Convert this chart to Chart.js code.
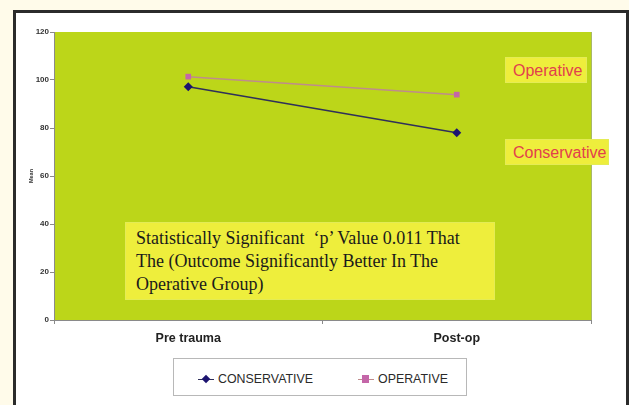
<!DOCTYPE html>
<html>
<head>
<meta charset="utf-8">
<script src="https://cdn.jsdelivr.net/npm/chart.js@4/dist/chart.umd.min.js"></script>
<style>
  html, body { margin: 0; padding: 0; }
  body { width: 629px; height: 405px; background: #fffbea; position: relative; overflow: hidden; font-family: "Liberation Sans", Arial, sans-serif; }
  #frame { position: absolute; left: 13px; top: 10px; width: 610px; height: 420px; border: 3px solid #2b2b2b; background: #fff; }
  #chartCanvas { position: absolute; left: 0; top: 0; }
  .note { position: absolute; background: #eeee3c; border: 1px solid #e4ec55; box-sizing: border-box; }
  #noteMain { left: 125px; top: 222px; width: 370px; height: 78px; padding: 4px 0 0 10px;
    font-family: "Liberation Serif", "Times New Roman", serif; font-size: 18px; line-height: 23px; color: #1a1a1a; }
  .tag { font-size: 16px; color: #e2404c; padding-left: 7px; line-height: 25px; }
  #tagOp { left: 505px; top: 57px; width: 82px; height: 26px; }
  #tagCons { left: 505px; top: 139px; width: 104px; height: 26px; }
  #legend { position: absolute; left: 173px; top: 358px; width: 294px; height: 38px; border: 1px solid #b8b8b8; box-sizing: border-box; background: #fff; }
  .item { position: absolute; top: 13px; font-size: 12.4px; color: #2a2a2a; line-height: 14px; }
  .item .ln { position: absolute; top: 7px; width: 16px; height: 1px; }
  .item .mk { position: absolute; }
  .item span { position: absolute; white-space: nowrap; }
</style>
</head>
<body>
<div id="frame"></div>
<canvas id="chartCanvas" width="629" height="405"></canvas>
<div id="noteMain" class="note">Statistically Significant &nbsp;‘p’ Value 0.011 That<br>The (Outcome Significantly Better In The<br>Operative Group)</div>
<div id="tagOp" class="note tag">Operative</div>
<div id="tagCons" class="note tag">Conservative</div>
<div id="legend"></div>
<script>
const categories = ['Pre trauma', 'Post-op'];
const conservative = [97.2, 78.0];
const operative = [101.4, 93.9];
const yTicks = [0, 20, 40, 60, 80, 100, 120];

const canvas = document.getElementById('chartCanvas');
const ctx = canvas.getContext('2d');

const plotBg = {
  id: 'plotBg',
  beforeDraw(chart) {
    const a = chart.chartArea;
    const c = chart.ctx;
    c.save();
    c.fillStyle = '#bcd619';
    c.fillRect(a.left, a.top, a.right - a.left, a.bottom - a.top);
    c.strokeStyle = '#a9b86a';
    c.lineWidth = 1;
    c.beginPath();
    c.moveTo(a.right + 0.5, a.top);
    c.lineTo(a.right + 0.5, a.bottom);
    c.stroke();
    c.restore();
  }
};

const chart = new Chart(ctx, {
  type: 'line',
  data: {
    labels: categories,
    datasets: [{
      label: 'CONSERVATIVE',
      data: conservative,
      borderColor: '#2f2f5a',
      backgroundColor: '#1c1470',
      borderWidth: 1.5,
      pointStyle: 'rectRot',
      pointRadius: 4.5,
      pointBorderWidth: 0,
      tension: 0
    }, {
      label: 'OPERATIVE',
      data: operative,
      borderColor: '#bf8c8c',
      backgroundColor: '#c466a8',
      borderWidth: 1.5,
      pointStyle: 'rect',
      pointRadius: 4,
      pointBorderWidth: 0,
      tension: 0
    }]
  },
  options: {
    responsive: false,
    animation: false,
    layout: { padding: { left: 22, top: 32, right: 38, bottom: 0 } },
    plugins: { legend: { display: false }, tooltip: { enabled: false } },
    scales: {
      x: {
        offset: true,
        afterFit: (scale) => { scale.height = 85; },
        grid: { offset: true, drawOnChartArea: false, tickLength: 4, color: '#8a8a8a' },
        border: { color: '#8a8a8a' },
        ticks: { color: '#222', padding: 7, font: { family: 'Liberation Sans', size: 12.5, weight: 'bold' } }
      },
      y: {
        min: 0,
        max: 120,
        afterFit: (scale) => { scale.width = 32; },
        afterBuildTicks: (scale) => { scale.ticks = yTicks.map(v => ({ value: v })); },
        grid: { drawOnChartArea: false, tickLength: 4, color: '#8a8a8a' },
        border: { color: '#8a8a8a' },
        ticks: { color: '#333', padding: 1, font: { family: 'Liberation Sans', size: 8, weight: 'bold' } },
        title: { display: true, text: 'Mean', color: '#333', padding: { top: 6, bottom: 0 }, font: { family: 'Liberation Sans', size: 5.5, weight: 'bold' } }
      }
    }
  },
  plugins: [plotBg]
});

// legend in the Excel style: short line through the marker
const legend = document.getElementById('legend');
const itemLeft = [24, 184];
chart.data.datasets.forEach((ds, i) => {
  const item = document.createElement('div');
  item.className = 'item';
  item.style.left = itemLeft[i] + 'px';
  const ln = document.createElement('div');
  ln.className = 'ln';
  ln.style.left = '0px';
  ln.style.background = ds.borderColor;
  const mk = document.createElement('div');
  mk.className = 'mk';
  mk.style.background = ds.backgroundColor;
  if (ds.pointStyle === 'rectRot') {
    mk.style.left = '5px'; mk.style.top = '4px'; mk.style.width = '6px'; mk.style.height = '6px';
    mk.style.transform = 'rotate(45deg)';
  } else {
    mk.style.left = '4px'; mk.style.top = '3px'; mk.style.width = '7px'; mk.style.height = '8px';
  }
  const txt = document.createElement('span');
  txt.style.left = '20px';
  txt.style.top = '0px';
  txt.textContent = ds.label;
  item.appendChild(ln);
  item.appendChild(mk);
  item.appendChild(txt);
  legend.appendChild(item);
});
</script>
</body>
</html>
